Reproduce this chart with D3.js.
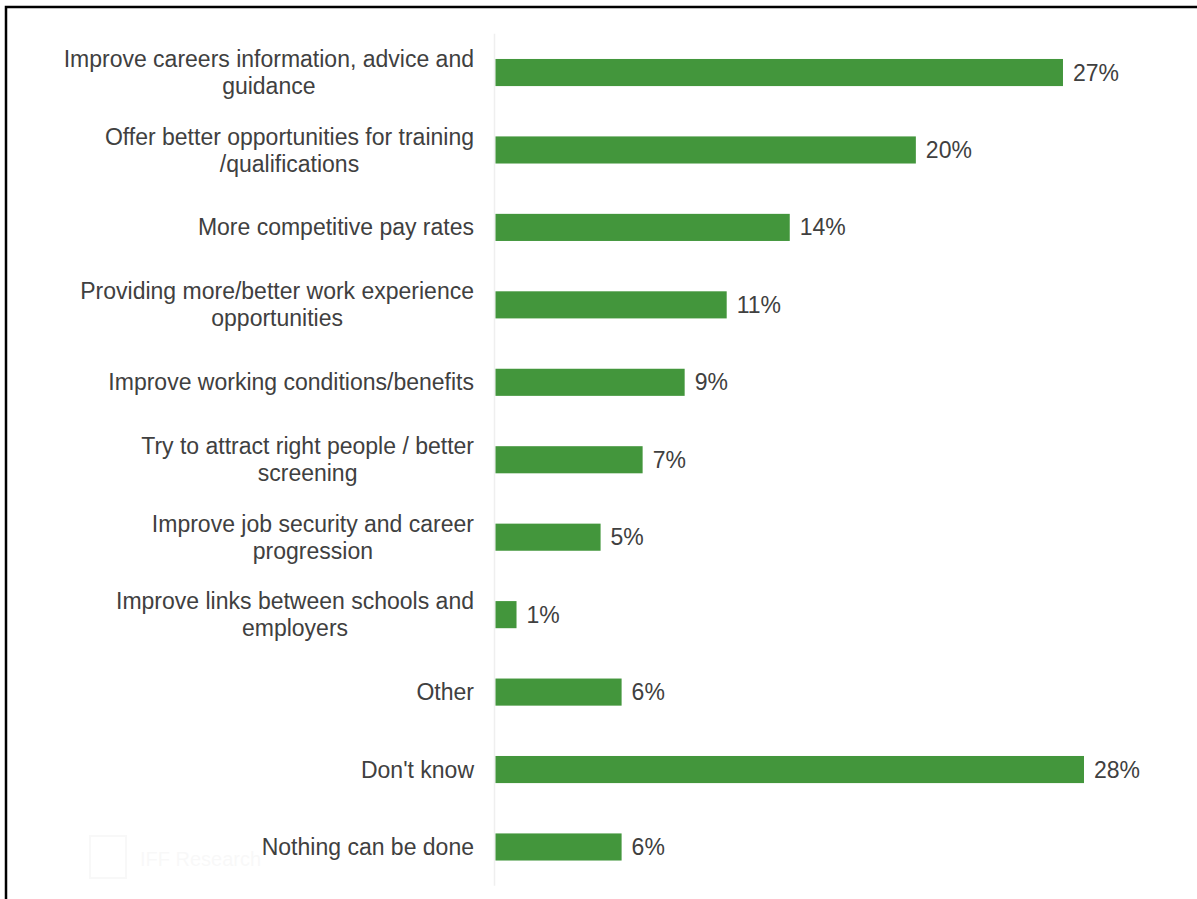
<!DOCTYPE html>
<html>
<head>
<meta charset="utf-8">
<script src="https://cdn.jsdelivr.net/npm/d3@7"></script>
<style>
  html, body { margin: 0; padding: 0; background: #ffffff; }
  svg { display: block; }
</style>
</head>
<body>
<svg id="chart" width="1197" height="899"></svg>
<script>
// Survey responses: what could be done to attract more young people
const categories = [
  ["Improve careers information, advice and", "guidance"],
  ["Offer better opportunities for training", "/qualifications"],
  ["More competitive pay rates"],
  ["Providing more/better work experience", "opportunities"],
  ["Improve working conditions/benefits"],
  ["Try to attract right people / better", "screening"],
  ["Improve job security and career", "progression"],
  ["Improve links between schools and", "employers"],
  ["Other"],
  ["Don't know"],
  ["Nothing can be done"]
];
const values = [27, 20, 14, 11, 9, 7, 5, 1, 6, 28, 6];
const valueLabels = ["27%", "20%", "14%", "11%", "9%", "7%", "5%", "1%", "6%", "28%", "6%"];

const svg = d3.select("#chart");
const font = "'Liberation Sans', Arial, sans-serif";
const fontSize = 23;
const textColor = "#404040";
const barColor = "#43963C";

// Outer frame (runs off the right and bottom edges)
svg.append("rect")
  .attr("x", 6).attr("y", 7)
  .attr("width", 1300).attr("height", 1000)
  .attr("fill", "none")
  .attr("stroke", "#000")
  .attr("stroke-width", 2.5);

const keys = categories.map((c, i) => i);

const x = d3.scaleLinear().domain([0, 28]).range([495.5, 1084]);
const y = d3.scaleBand()
  .domain(keys)
  .range([33.8, 885.7])
  .paddingInner(0.65)
  .paddingOuter(0.325);

// Faint watermark
const wm = svg.append("g").attr("opacity", 0.025);
wm.append("rect").attr("x", 90).attr("y", 836).attr("width", 36).attr("height", 42)
  .attr("fill", "none").attr("stroke", "#000").attr("stroke-width", 2);
wm.append("text").attr("x", 140).attr("y", 866)
  .attr("font-family", font).attr("font-size", 20).attr("fill", "#000")
  .text("IFF Research");

// Category axis line
svg.append("line")
  .attr("x1", 494.5).attr("x2", 494.5)
  .attr("y1", y.range()[0]).attr("y2", y.range()[1])
  .attr("stroke", "#efefef")
  .attr("stroke-width", 1.5);

// Bars
svg.append("g").selectAll("rect")
  .data(values)
  .join("rect")
  .attr("x", x(0))
  .attr("y", (d, i) => y(i))
  .attr("width", d => x(d) - x(0))
  .attr("height", y.bandwidth())
  .attr("fill", barColor);

// Value labels
svg.append("g").selectAll("text")
  .data(values)
  .join("text")
  .attr("x", d => x(d) + 10)
  .attr("y", (d, i) => y(i) + y.bandwidth() / 2)
  .attr("dy", "0.35em")
  .attr("font-family", font)
  .attr("font-size", fontSize)
  .attr("fill", textColor)
  .text((d, i) => valueLabels[i]);

// Category labels: block right-aligned, lines centred within the block
const labelRight = 474;
const lineH = 27;
const labels = svg.append("g");
categories.forEach((lines, i) => {
  const cy = y(i) + y.bandwidth() / 2;
  const g = labels.append("g");
  const texts = lines.map((t, j) => g.append("text")
    .attr("font-family", font)
    .attr("font-size", fontSize)
    .attr("fill", textColor)
    .attr("text-anchor", "middle")
    .attr("y", cy + (j - (lines.length - 1) / 2) * lineH)
    .attr("dy", "0.35em")
    .text(t));
  const w = d3.max(texts, t => t.node().getComputedTextLength());
  texts.forEach(t => t.attr("x", labelRight - w / 2));
});
</script>
</body>
</html>
